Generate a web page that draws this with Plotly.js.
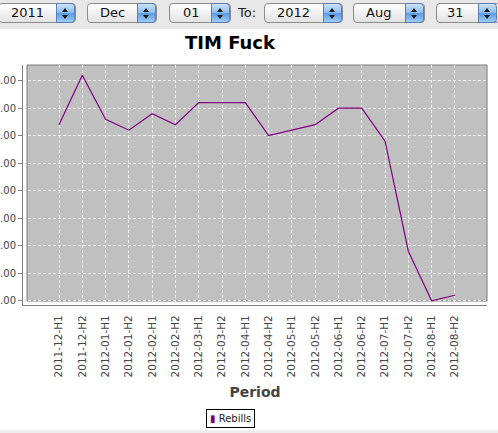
<!DOCTYPE html>
<html>
<head>
<meta charset="utf-8">
<script src="https://cdn.plot.ly/plotly-3.0.1.min.js"></script>
<style>
  html, body { margin:0; padding:0; background:#fff; }
  body { width:498px; height:433px; position:relative; overflow:hidden; font-family:"DejaVu Sans", sans-serif; }
  #chart { position:absolute; left:0; top:0; width:498px; height:433px; }
  #bar { position:absolute; left:0; top:0; width:498px; height:29px; background:#e8e8e8; z-index:5; }
  #foot { position:absolute; left:0; top:430px; width:498px; height:3px; background:#eeeeee; z-index:5; }
  .sel { position:absolute; top:3px; height:20px; box-sizing:border-box; border:1px solid #8c8c8c; border-radius:4px;
         background:linear-gradient(#ffffff, #f1f1f1 50%, #e2e2e2); font-size:13px; line-height:18px; color:#111; }
  .sel span { position:absolute; top:0; }
  .step { position:absolute; right:0; top:-1px; bottom:-1px; width:17px; border:1px solid #5a7fb8; border-radius:0 4px 4px 0;
          background:linear-gradient(#cfe3fb, #8dbdf1 48%, #5a9be6 52%, #9fcdf8); }
  .up, .dn { position:absolute; left:5px; width:0; height:0; border-left:3px solid transparent; border-right:3px solid transparent; }
  .up { top:4px; border-bottom:4px solid #1a1a1a; }
  .dn { top:11px; border-top:4px solid #1a1a1a; }
  #to { position:absolute; left:238px; top:4px; font-size:13px; line-height:18px; color:#222; }
</style>
</head>
<body>
<div id="chart"></div>
<div id="bar">
  <div class="sel" style="left:-2px;width:78px;"><span style="left:12px;">2011</span><div class="step"><div class="up"></div><div class="dn"></div></div></div>
  <div class="sel" style="left:87px;width:70px;"><span style="left:12px;">Dec</span><div class="step"><div class="up"></div><div class="dn"></div></div></div>
  <div class="sel" style="left:169px;width:62px;"><span style="left:13px;">01</span><div class="step"><div class="up"></div><div class="dn"></div></div></div>
  <div id="to">To:</div>
  <div class="sel" style="left:264px;width:79px;"><span style="left:12px;">2012</span><div class="step"><div class="up"></div><div class="dn"></div></div></div>
  <div class="sel" style="left:353px;width:72px;"><span style="left:12px;">Aug</span><div class="step"><div class="up"></div><div class="dn"></div></div></div>
  <div class="sel" style="left:436px;width:64px;"><span style="left:10px;">31</span><div class="step" style="right:2px;"><div class="up"></div><div class="dn"></div></div></div>
</div>
<div id="foot"></div>
<script>
// ---- data ----
var periods = ["2011-12-H1","2011-12-H2","2012-01-H1","2012-01-H2","2012-02-H1","2012-02-H2",
               "2012-03-H1","2012-03-H2","2012-04-H1","2012-04-H2","2012-05-H1","2012-05-H2",
               "2012-06-H1","2012-06-H2","2012-07-H1","2012-07-H2","2012-08-H1","2012-08-H2"];
var rebills = [32, 41, 33, 31, 34, 32, 36, 36, 36, 30, 31, 32, 35, 35, 29, 9, 0, 1];
var yTicks = [0, 5, 10, 15, 20, 25, 30, 35, 40];
var seriesName = "Rebills";
var chartTitle = "TIM Fuck";
var xTitle = "Period";

var purple = "#800080";
var font = "DejaVu Sans, sans-serif";

var traces = [{
  x: periods, y: rebills, type: "scatter", mode: "lines",
  line: { color: purple, width: 1.2 }, name: seriesName, showlegend: false, hoverinfo: "skip"
}];

var layout = {
  width: 498, height: 433,
  margin: { l: 23, r: 11, t: 65, b: 128, pad: 0 },
  paper_bgcolor: "#ffffff",
  plot_bgcolor: "rgba(0,0,0,0)",
  showlegend: false,
  title: { text: chartTitle, font: { family: font, size: 18, color: "#000", weight: "bold" },
           x: 230/498, xref: "container", xanchor: "center", y: 1 - 43/433, yref: "container", yanchor: "middle" },
  xaxis: {
    type: "category", categoryorder: "array", categoryarray: periods,
    range: [-1.546, 18.377], fixedrange: true,
    showline: true, linecolor: "#808080", linewidth: 1, mirror: false,
    ticks: "", tickangle: -90, automargin: false, ticklabelstandoff: 5,
    tickfont: { family: font, size: 10.5, color: "#444" },
    showgrid: true, gridcolor: "#ececec", gridwidth: 1, griddash: "3px,2px",
    zeroline: false,
    title: { text: xTitle, font: { family: font, size: 14, color: "#444", weight: "bold" }, standoff: 10 }
  },
  yaxis: {
    range: [-0.78, 42.85], fixedrange: true,
    tickmode: "array", tickvals: yTicks,
    ticktext: yTicks.map(function(v){ return v.toFixed(2); }),
    showline: true, linecolor: "#808080", linewidth: 1,
    ticks: "outside", ticklen: 4, tickcolor: "#808080", automargin: false,
    tickfont: { family: font, size: 10, color: "#444" },
    showgrid: true, gridcolor: "#ececec", gridwidth: 1, griddash: "3px,2px",
    zeroline: false
  },
  shapes: [{
    type: "rect", xref: "paper", yref: "paper", layer: "below",
    x0: 4/464, x1: 1, y0: 4/240, y1: 1,
    fillcolor: "#c0c0c0", line: { color: "#7a7a7a", width: 1 }
  }],
  annotations: [{
    xref: "paper", yref: "paper", x: (230-23)/464, y: (305-418)/240,
    xanchor: "center", yanchor: "middle", showarrow: false,
    text: '<span style="color:' + purple + '">▮</span> ' + seriesName,
    font: { family: font, size: 10, color: "#222" },
    bordercolor: "#000", borderwidth: 1, borderpad: 3, bgcolor: "#fff"
  }]
};

Plotly.newPlot("chart", traces, layout, { staticPlot: true, displayModeBar: false });
</script>
</body>
</html>
